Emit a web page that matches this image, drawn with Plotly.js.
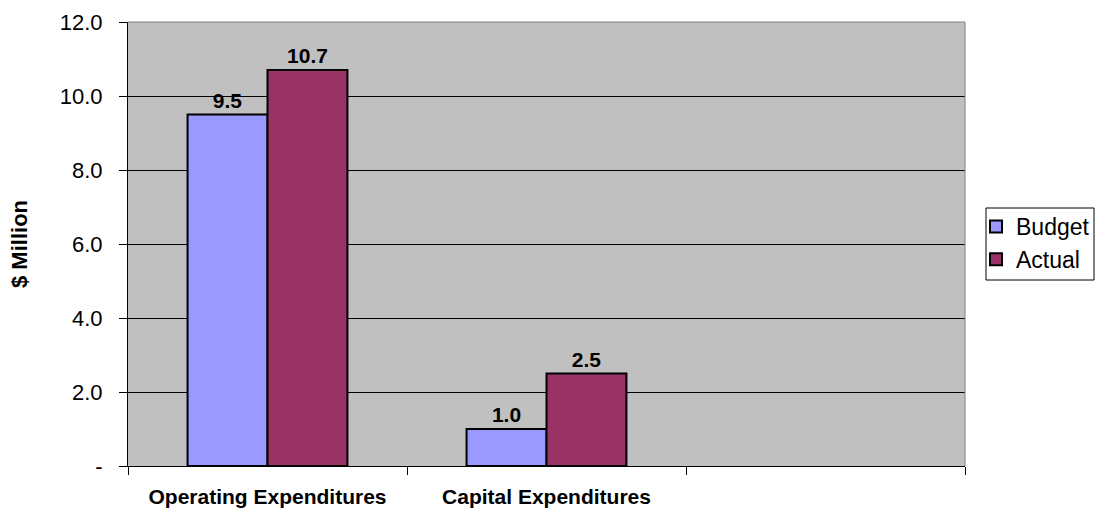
<!DOCTYPE html>
<html>
<head>
<meta charset="utf-8">
<script src="https://cdn.plot.ly/plotly-3.0.1.min.js"></script>
<style>html,body{margin:0;padding:0;background:#fff;}#chart{width:1095px;height:510px;}</style>
</head>
<body>
<div id="chart"></div>
<script>
const categories = ["Operating Expenditures", "Capital Expenditures", " "];
const budget = [9.5, 1.0, null];
const actual = [10.7, 2.5, null];
const yTickVals = [0, 2, 4, 6, 8, 10, 12];
const yTickText = ["-", "2.0", "4.0", "6.0", "8.0", "10.0", "12.0"];

const FONT = "Liberation Sans, Arial, sans-serif";

const traces = [
  {
    type: "bar", name: "Budget", x: categories, y: budget,
    marker: {color: "#9999FF", line: {color: "#000000", width: 2}},
    texttemplate: "%{y:.1f}", textposition: "outside",
    textfont: {family: FONT, size: 21, color: "#000", weight: "bold"},
    cliponaxis: false, hoverinfo: "none"
  },
  {
    type: "bar", name: "Actual", x: categories, y: actual,
    marker: {color: "#993366", line: {color: "#000000", width: 2}},
    texttemplate: "%{y:.1f}", textposition: "outside",
    textfont: {family: FONT, size: 21, color: "#000", weight: "bold"},
    cliponaxis: false, hoverinfo: "none"
  }
];

const layout = {
  width: 1095, height: 510,
  margin: {l: 128, r: 130, t: 22, b: 44, autoexpand: false},
  paper_bgcolor: "#ffffff",
  plot_bgcolor: "#C0C0C0",
  font: {family: FONT, size: 22, color: "#000"},
  barmode: "group",
  bargap: 0.427,
  bargroupgap: 0,
  xaxis: {
    type: "category",
    range: [-0.5, 2.5],
    showline: true, linecolor: "#000", linewidth: 1,
    ticks: "outside", tickson: "boundaries", ticklen: 8, tickcolor: "#000",
    showgrid: false, zeroline: false,
    tickfont: {family: FONT, size: 21, weight: "bold", color: "#000"},
    ticklabelstandoff: 12
  },
  yaxis: {
    range: [0, 12],
    tickvals: yTickVals, ticktext: yTickText,
    showline: true, linecolor: "#000", linewidth: 1,
    ticks: "outside", ticklen: 8, tickcolor: "#000",
    showgrid: true, gridcolor: "#000", gridwidth: 1,
    zeroline: false,
    tickfont: {family: FONT, size: 22, color: "#000"},
    ticklabelstandoff: 12,
    title: {text: "$ Million", font: {family: FONT, size: 22, weight: "bold", color: "#000"}, standoff: 26}
  },
  showlegend: true,
  legend: {
    x: (976 - 128) / 837, xanchor: "left",
    y: (466 - 205) / 444, yanchor: "top",
    bgcolor: "rgba(0,0,0,0)", borderwidth: 0,
    font: {family: FONT, size: 23, color: "#000"},
    itemwidth: 30,
    tracegroupgap: 0
  },
  shapes: [
    {type: "line", xref: "paper", yref: "paper", x0: 1, x1: 1, y0: 0, y1: 1,
     line: {color: "#808080", width: 1}},
    {type: "line", xref: "paper", yref: "paper", x0: 0, x1: 1, y0: 1, y1: 1,
     line: {color: "#808080", width: 1}},
    {type: "rect", xref: "paper", yref: "paper",
     x0: (986 - 128) / 837, x1: (1094 - 128) / 837,
     y0: (466 - 280) / 444, y1: (466 - 208) / 444,
     fillcolor: "#ffffff", line: {color: "#000", width: 1}, layer: "above"}
  ]
};

Plotly.newPlot("chart", traces, layout, {displayModeBar: false, staticPlot: true});
</script>
</body>
</html>
